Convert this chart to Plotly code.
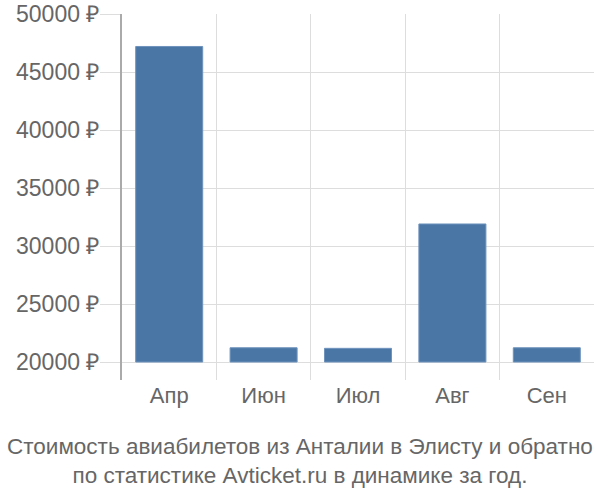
import plotly.graph_objects as go

months = ["Апр", "Июн", "Июл", "Авг", "Сен"]
prices = [47200, 21230, 21180, 31900, 21230]
base_price = 20000
y_ticks = [20000, 25000, 30000, 35000, 40000, 45000, 50000]
title_lines = [
    "Стоимость авиабилетов из Анталии в Элисту и обратно",
    "по статистике Avticket.ru в динамике за год.",
]

fig = go.Figure()
fig.add_trace(
    go.Bar(
        x=months,
        y=[p - base_price for p in prices],
        base=base_price,
        marker=dict(color="#4a76a6", line=dict(color="#6f93bd", width=1)),
        hoverinfo="skip",
    )
)

fig.update_layout(
    width=600,
    height=500,
    margin=dict(l=122, r=6, t=14, b=120),
    paper_bgcolor="white",
    plot_bgcolor="white",
    bargap=0.29,
    showlegend=False,
    font=dict(family="Liberation Sans, Arial, sans-serif", size=22, color="#666"),
)

# two-line caption under the chart, centred on the page (not the plot area)
fig.add_annotation(
    text="<br>".join(title_lines),
    x=(300 - 122) / 472,
    xref="paper",
    xanchor="center",
    y=-0.221,
    yref="paper",
    yanchor="middle",
    showarrow=False,
    align="center",
    font=dict(size=22.5, color="#666"),
)

fig.update_xaxes(
    automargin=False,
    tickson="boundaries",
    showgrid=True,
    gridcolor="#dddddd",
    gridwidth=1,
    ticks="",
    showline=False,
    zeroline=False,
    tickfont=dict(size=22, color="#666"),
)

fig.update_yaxes(
    automargin=False,
    range=[18450, 50000],
    tickvals=y_ticks,
    ticktext=[f"{v} ₽" for v in y_ticks],
    ticklabeloverflow="allow",
    showgrid=True,
    gridcolor="#dddddd",
    gridwidth=1,
    ticks="outside",
    ticklen=20,
    tickcolor="#dddddd",
    ticklabelstandoff=-4,
    showline=True,
    linecolor="#aaaaaa",
    linewidth=2,
    zeroline=False,
    tickfont=dict(size=23, color="#666"),
)

# drop the browser's default body margin so the figure sits at the page corner
fig.write_html(
    "out.html",
    config={"displayModeBar": False},
    post_script="document.body.style.margin = '0';",
)
